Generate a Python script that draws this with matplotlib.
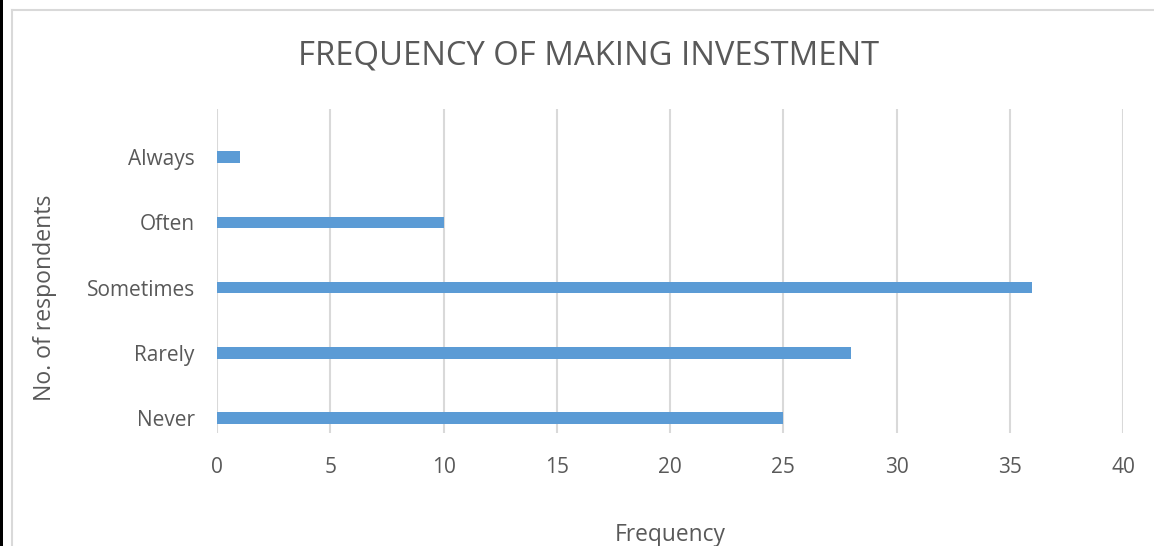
import matplotlib.pyplot as plt
from matplotlib.lines import Line2D
from matplotlib.patches import Rectangle

categories = ["Never", "Rarely", "Sometimes", "Often", "Always"]
counts = [25, 28, 36, 10, 1]
xticks = [0, 5, 10, 15, 20, 25, 30, 35, 40]

W, H = 1154, 546
text_color = "#595959"
grid_color = "#d9d9d9"
bar_color = "#5b9bd5"

plt.rcParams["font.family"] = ["Open Sans", "DejaVu Sans"]

fig = plt.figure(figsize=(W / 100, H / 100), dpi=100)

# plot area in pixel coords
left, right, top, bottom = 217, 1123, 109, 433
ax = fig.add_axes([left / W, 1 - bottom / H, (right - left) / W, (bottom - top) / H])

pos = list(range(len(categories)))
ax.barh(pos, counts, height=0.177, color=bar_color, zorder=3)

ax.set_xlim(0, 40)
ax.set_ylim(-0.23, 4.74)
ax.set_xticks(xticks)
ax.set_yticks(pos)
ax.set_yticklabels(categories)
ax.grid(axis="x", color=grid_color, linewidth=1.5, zorder=0)
ax.tick_params(length=0, colors=text_color, labelsize=15)
ax.tick_params(axis="x", pad=17)
ax.tick_params(axis="y", pad=16)
for s in ax.spines.values():
    s.set_visible(False)

fig.text(589 / W, 1 - 56 / H, "FREQUENCY OF MAKING INVESTMENT",
         ha="center", va="center", fontsize=23.6, color=text_color)
fig.text(670 / W, 1 - 535 / H, "Frequency",
         ha="center", va="center", fontsize=16.4, color=text_color)
fig.text(45 / W, 1 - 298 / H, "No. of respondents", rotation=90,
         ha="center", va="center", fontsize=16.6, color=text_color)

# outer chart border and dark strip on the left edge
fig.add_artist(Rectangle((0, 0), 3 / W, 1, transform=fig.transFigure,
                         color="black", lw=0))
fig.add_artist(Line2D([12 / W, 1], [1 - 9.5 / H, 1 - 9.5 / H],
                      transform=fig.transFigure, color=grid_color, lw=1.5))
fig.add_artist(Line2D([12 / W, 12 / W], [0, 1 - 9.5 / H],
                      transform=fig.transFigure, color=grid_color, lw=1.5))

fig.savefig("out.png", dpi=100)
